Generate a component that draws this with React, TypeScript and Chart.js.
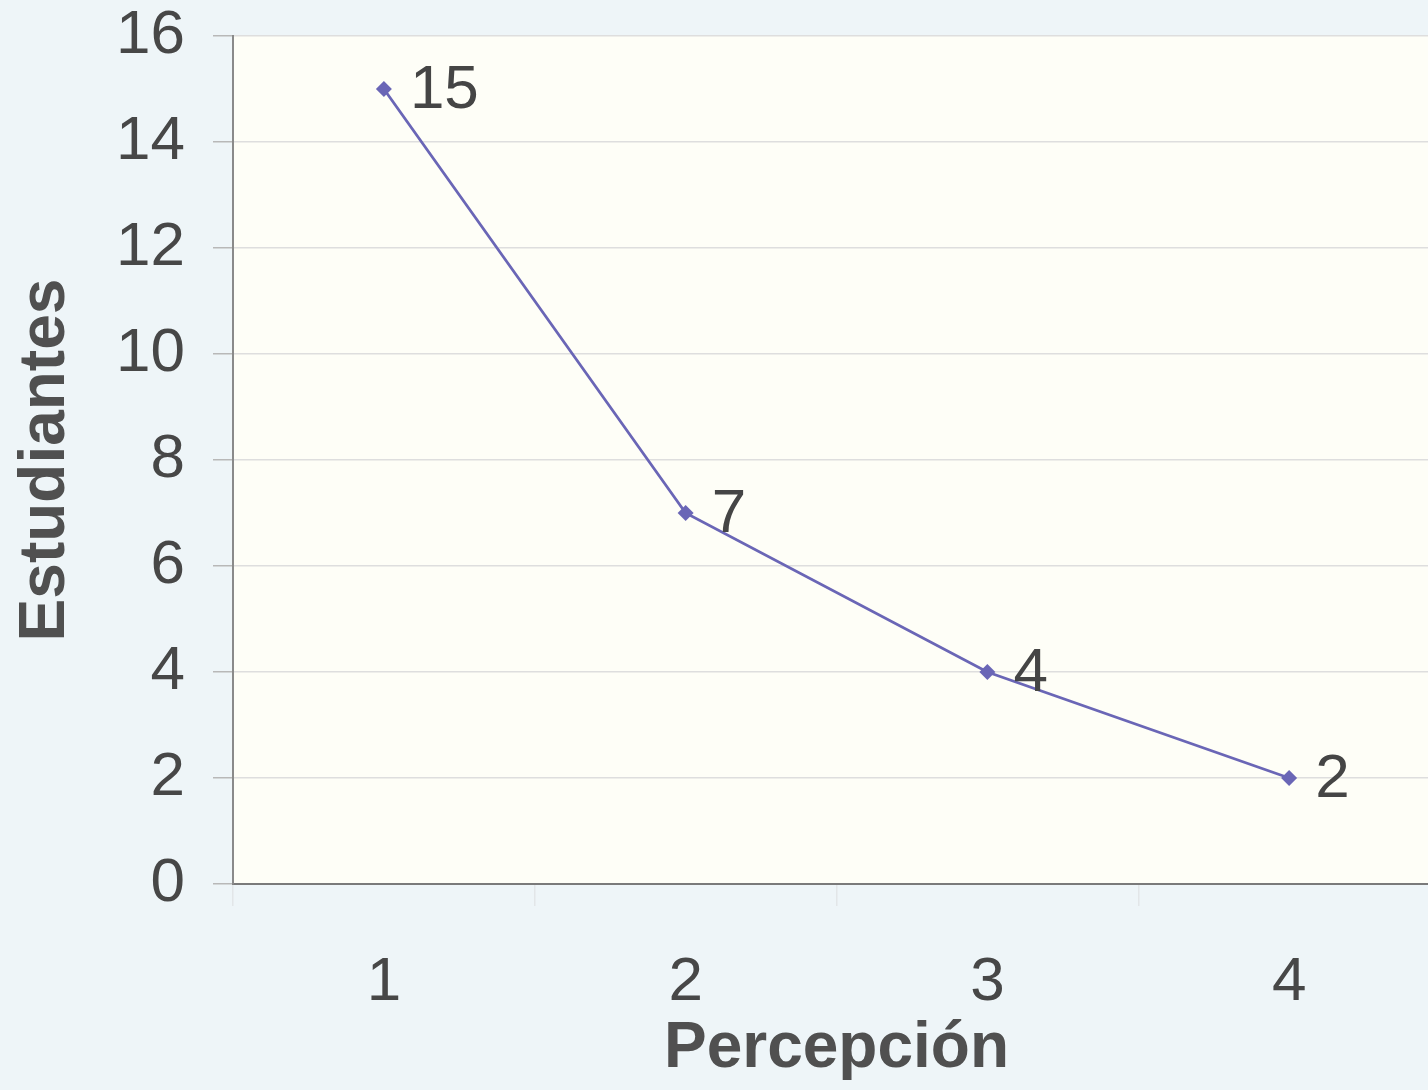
import React, { useEffect, useRef } from "react";
import { Chart, registerables } from "chart.js";

Chart.register(...registerables);

const categories = ["1", "2", "3", "4"];
const estudiantes = [15, 7, 4, 2];
const yTicks = [0, 2, 4, 6, 8, 10, 12, 14, 16];

const FONT = "'Liberation Sans', Arial, sans-serif";

const bgPlugin = {
  id: "plotBg",
  beforeDraw(chart: any) {
    const { ctx, chartArea } = chart;
    ctx.save();
    ctx.fillStyle = "#fefef7";
    ctx.fillRect(chartArea.left, chartArea.top, chartArea.right - chartArea.left, chartArea.bottom - chartArea.top);
    ctx.restore();
  },
};

const labelPlugin = {
  id: "pointLabels",
  afterDatasetsDraw(chart: any) {
    const { ctx } = chart;
    const meta = chart.getDatasetMeta(0);
    ctx.save();
    ctx.font = `62px ${FONT}`;
    ctx.fillStyle = "#454545";
    ctx.textAlign = "left";
    ctx.textBaseline = "middle";
    meta.data.forEach((pt: any, i: number) => {
      ctx.fillText(String(estudiantes[i]), pt.x + 26, pt.y + 2);
    });
    ctx.restore();
  },
};

export default function App() {
  const ref = useRef<HTMLCanvasElement | null>(null);
  useEffect(() => {
    if (!ref.current) return;
    const chart = new Chart(ref.current, {
      type: "line",
      data: {
        labels: categories,
        datasets: [
          {
            data: estudiantes,
            borderColor: "#6a66b6",
            backgroundColor: "#6a66b6",
            borderWidth: 2.8,
            pointStyle: "rectRot",
            pointRadius: 8,
            pointBorderWidth: 0,
            tension: 0,
          },
        ],
      },
      options: {
        animation: false,
        responsive: false,
        maintainAspectRatio: false,
        layout: { padding: { top: 36, right: 20, left: 0, bottom: 0 } },
        plugins: { legend: { display: false }, tooltip: { enabled: false } },
        scales: {
          x: {
            type: "category",
            offset: true,
            grid: {
              display: true,
              offset: true,
              drawOnChartArea: false,
              drawTicks: true,
              tickLength: 22,
              tickColor: "#e2e6e8",
              lineWidth: 1.5,
            },
            border: { display: true, color: "#7a7a7a", width: 2 },
            ticks: {
              font: { family: FONT, size: 62 },
              color: "#474747",
              padding: 40,
            },
            title: {
              display: true,
              text: "Percepción",
              font: { family: FONT, size: 64, weight: "bold" },
              color: "#505050",
              padding: { top: 0, bottom: 2 },
            },
            afterFit(scale: any) {
              scale.height = 206;
              scale.paddingLeft = 0;
              scale.paddingRight = 0;
            },
          },
          y: {
            min: 0,
            max: 16,
            afterBuildTicks(scale: any) {
              scale.ticks = yTicks.map((v) => ({ value: v }));
            },
            grid: {
              color: "#dedede",
              lineWidth: 1.5,
              drawTicks: true,
              tickLength: 20,
              tickColor: "#b8b8b8",
            },
            border: { display: true, color: "#8a8a8a", width: 2 },
            ticks: {
              font: { family: FONT, size: 62 },
              color: "#474747",
              padding: 28,
            },
            title: {
              display: true,
              text: "Estudiantes",
              font: { family: FONT, size: 64, weight: "bold" },
              color: "#505050",
              padding: { top: 8, bottom: 0 },
            },
            afterFit(scale: any) {
              scale.width = 233;
              scale.paddingTop = 0;
              scale.paddingBottom = 0;
            },
          },
        },
      },
      plugins: [bgPlugin, labelPlugin],
    });
    return () => chart.destroy();
  }, []);

  return (
    <div style={{ position: "fixed", left: 0, top: 0, width: 1428, height: 1090, overflow: "hidden", background: "#eef5f8" }}>
      <canvas ref={ref} width={1460} height={1090} style={{ position: "absolute", left: 0, top: 0, width: 1460, height: 1090 }} />
    </div>
  );
}
